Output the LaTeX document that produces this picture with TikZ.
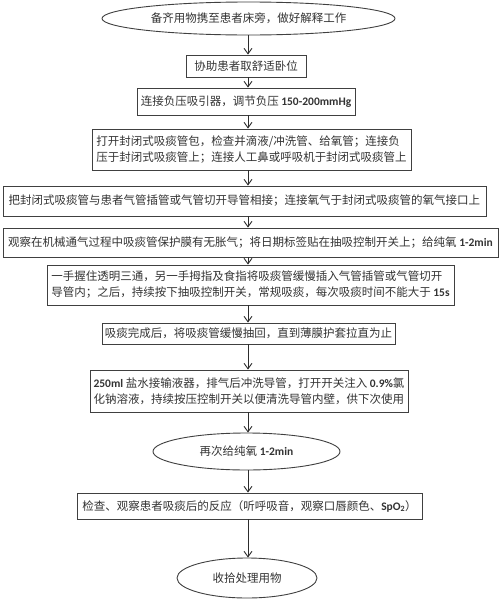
\documentclass[tikz,border=0pt]{standalone}
\usepackage{fontspec}
\setmainfont{Noto Sans CJK SC}
\newfontfamily\lat{Carlito}
\newcommand{\lb}[1]{{\lat\bfseries #1}}
\usetikzlibrary{shapes.geometric,arrows.meta}
\definecolor{txt}{HTML}{333333}
\definecolor{ln}{HTML}{404040}
\begin{document}
\begin{tikzpicture}[x=1pt,y=-1pt,
  base/.style={draw=ln, line width=0.9pt, text=txt, font=\fontsize{11.5}{16}\selectfont, inner sep=0pt, align=left},
  boxn/.style={base, rectangle},
  oval/.style={base, ellipse},
  arr/.style={draw=ln!70!black, line width=0.9pt, -{Straight Barb[length=5.5pt,width=8pt]}}
]
\useasboundingbox[fill=white] (0,0) rectangle (500,600);
\coordinate (ax) at (248,0);

\node[oval, minimum width=293pt, minimum height=33pt] (n1) at (248.5,18.5) {备齐用物携至患者床旁，做好解释工作};
\node[boxn, minimum width=120pt, minimum height=22pt] (n2) at (246,66) {协助患者取舒适卧位};
\node[boxn, minimum width=218pt, minimum height=27pt] (n3) at (246,101.5) {连接负压吸引器，调节负压 \lb{150-200mmHg}};
\node[boxn, minimum width=319pt, minimum height=41pt] (n4) at (251.5,149.5) {打开封闭式吸痰管包，检查并滴液/冲洗管、给氧管；连接负\\压于封闭式吸痰管上；连接人工鼻或呼吸机于封闭式吸痰管上};
\node[boxn, minimum width=483pt, minimum height=30pt] (n5) at (244.5,201) {把封闭式吸痰管与患者气管插管或气管切开导管相接；连接氧气于封闭式吸痰管的氧气接口上};
\node[boxn, minimum width=495pt, minimum height=29pt] (n6) at (250.5,242.5) {观察在机械通气过程中吸痰管保护膜有无胀气；将日期标签贴在抽吸控制开关上；给纯氧 \lb{1-2min}};
\node[boxn, minimum width=407pt, minimum height=40pt] (n7) at (250.5,285) {一手握住透明三通，另一手拇指及食指将吸痰管缓慢插入气管插管或气管切开\\导管内；之后，持续按下抽吸控制开关，常规吸痰，每次吸痰时间不能大于 \lb{15s}};
\node[boxn, minimum width=293pt, minimum height=21pt] (n8) at (248.5,333.5) {吸痰完成后，将吸痰管缓慢抽回，直到薄膜护套拉直为止};
\node[boxn, minimum width=318pt, minimum height=42pt] (n9) at (249,391) {\lb{250ml} 盐水接输液器，排气后冲洗导管，打开开关注入 \lb{0.9\%}氯\\化钠溶液，持续按压控制开关以便清洗导管内壁，供下次使用};
\node[oval, minimum width=187pt, minimum height=37pt] (n10) at (246.5,451.5) {再次给纯氧 \lb{1-2min}};
\node[boxn, minimum width=345pt, minimum height=26pt] (n11) at (249.5,506) {检查、观察患者吸痰后的反应（听呼吸音，观察口唇颜色、\lb{SpO\textsubscript{2}}）};
\node[oval, minimum width=140pt, minimum height=40pt] (n12) at (247,578) {收拾处理用物};

\foreach \a/\b in {n1/n2,n2/n3,n3/n4,n4/n5,n5/n6,n6/n7,n7/n8,n8/n9,n9/n10,n10/n11,n11/n12}
  \draw[arr] (\a.south -| ax) -- (\b.north -| ax);
\end{tikzpicture}
\end{document}
